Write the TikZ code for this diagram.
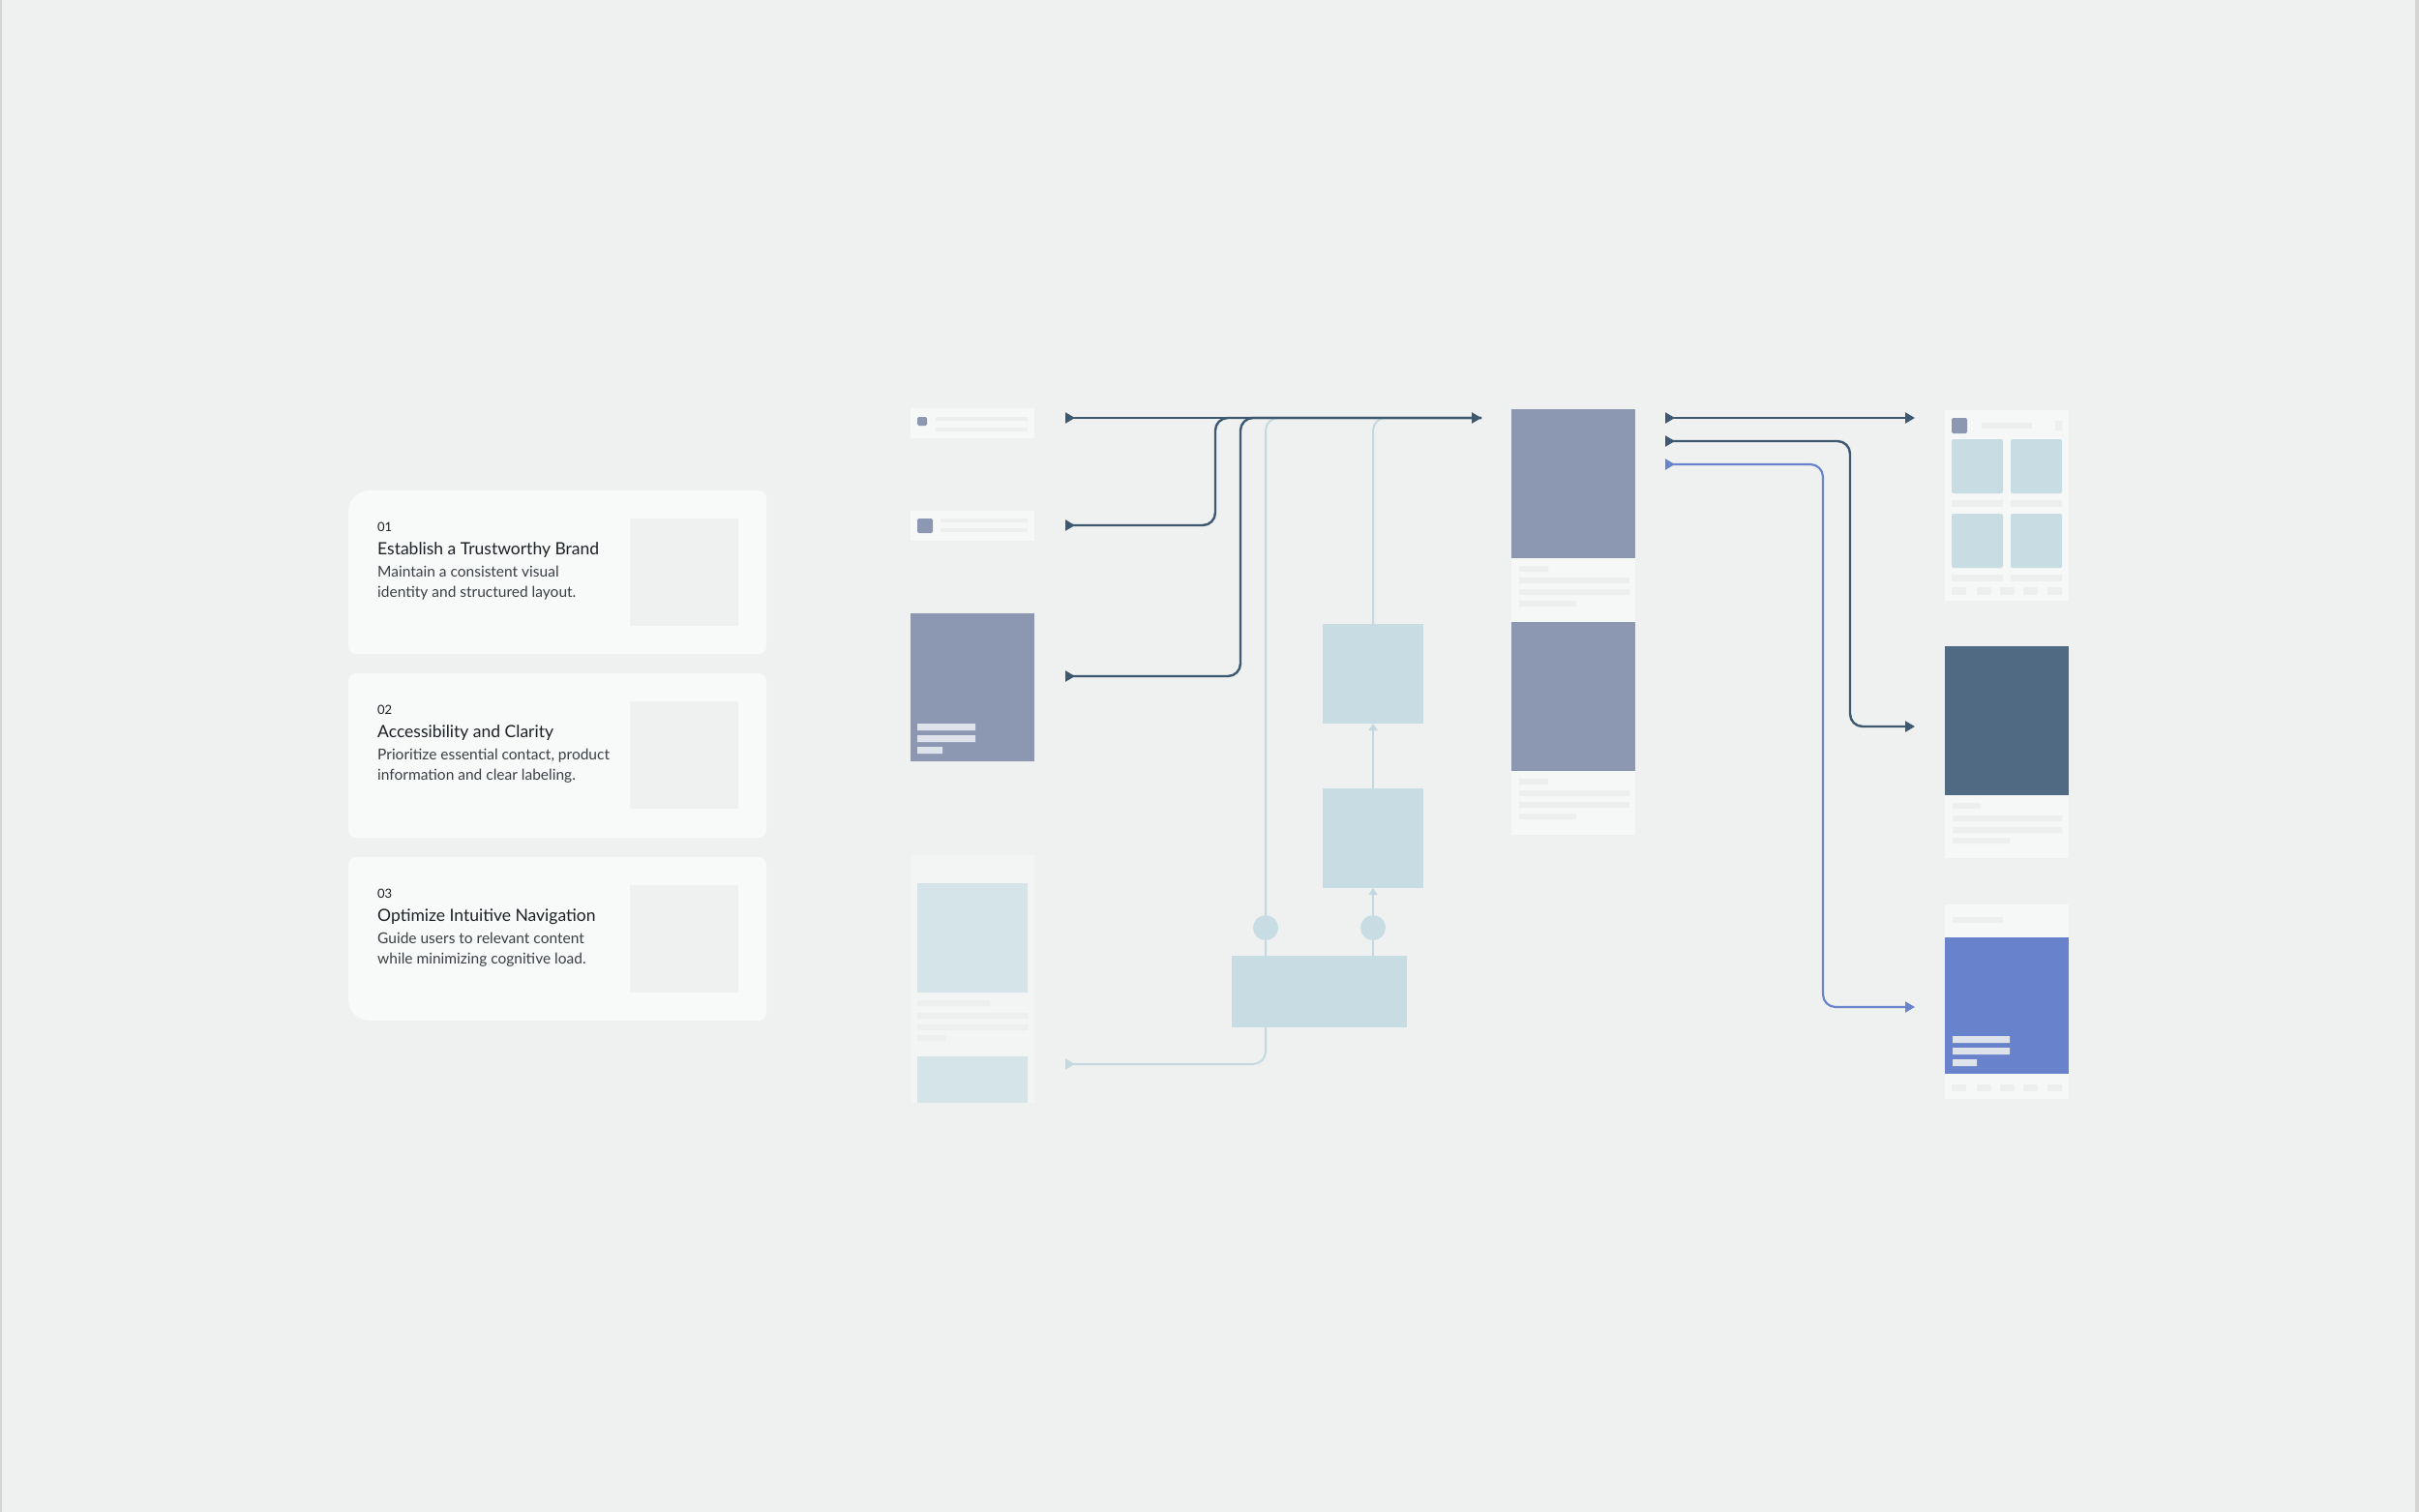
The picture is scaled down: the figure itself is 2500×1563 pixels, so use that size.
\documentclass[tikz,border=0pt]{standalone}
\usepackage{fontspec}
\setmainfont{Lato}
\usetikzlibrary{arrows.meta}
\definecolor{pgBack}{HTML}{EFF1F0}
\definecolor{pgEdge}{HTML}{D5D6D3}
\definecolor{pgCard}{HTML}{F8F9F9}
\definecolor{pgHole}{HTML}{EFF1F0}
\definecolor{pgSheet}{HTML}{F6F7F7}
\definecolor{pgFrost}{HTML}{F3F5F5}
\definecolor{pgSkel}{HTML}{EDEFEF}
\definecolor{pgSlate}{HTML}{3E5870}
\definecolor{pgMist}{HTML}{C8DDE3}
\definecolor{pgMistLine}{HTML}{C4D9DF}
\definecolor{pgPale}{HTML}{D4E4E9}
\definecolor{pgLilac}{HTML}{8C97B2}
\definecolor{pgBar}{HTML}{DDE2EB}
\definecolor{pgNavy}{HTML}{506A83}
\definecolor{pgBlue}{HTML}{6882CB}
\definecolor{pgBlueLine}{HTML}{6A84CC}
\definecolor{pgInk}{HTML}{1D2125}
\definecolor{pgText}{HTML}{3A3F44}

\begin{document}
\begin{tikzpicture}[x=1pt,y=-1pt,
    sheet/.style={fill=pgSheet,inner sep=0pt,outer sep=0pt,anchor=north west},
    mist/.style={fill=pgMist,inner sep=0pt,outer sep=0pt,anchor=north west},
    dot/.style={circle,fill=pgMist,inner sep=0pt,minimum size=26pt},
    num/.style={anchor=base west,inner sep=0pt,text=pgInk,font=\fontsize{13}{13}\selectfont},
    ttl/.style={anchor=base west,inner sep=0pt,text=pgInk,font=\fontsize{17.5}{18}\selectfont},
    txt/.style={anchor=base west,inner sep=0pt,text=pgText,font=\fontsize{15.5}{16}\selectfont},
    darkflow/.style={line width=2.4pt,pgSlate,rounded corners=13pt},
    lightflow/.style={line width=2pt,pgMistLine,rounded corners=13pt},
    blueflow/.style={line width=2.2pt,pgBlueLine,rounded corners=13pt},
    flowstart/.style={{Triangle[reversed,length=10pt,width=11pt]}-},
    flowboth/.style={{Triangle[reversed,length=10pt,width=11pt]}-{Triangle[length=10pt,width=11pt]}},
    tipup/.style={-{Triangle[length=7pt,width=9pt]}}]
  \useasboundingbox (0,0) rectangle (2500,1563);
  \fill[pgBack] (0,0) rectangle (2500,1563);
  \fill[pgEdge] (0,0) rectangle (2,1563);
  \fill[pgEdge] (2496,0) rectangle (2500,1563);

  % goal cards
  \fill[pgCard] (360,529) arc[start angle=180,end angle=270,radius=22] -- (784,507)
    arc[start angle=270,end angle=360,radius=8] -- (792,668)
    arc[start angle=0,end angle=90,radius=8] -- (368,676)
    arc[start angle=90,end angle=180,radius=8] -- cycle;
  \fill[pgCard,rounded corners=8pt] (360,696) rectangle (792,866);
  \fill[pgCard] (360,894) arc[start angle=180,end angle=270,radius=8] -- (784,886)
    arc[start angle=270,end angle=360,radius=8] -- (792,1047)
    arc[start angle=0,end angle=90,radius=8] -- (382,1055)
    arc[start angle=90,end angle=180,radius=22] -- cycle;
  \foreach \n/\y/\title/\la/\lb in {
      01/507/{Establish a Trustworthy Brand}/{Maintain a consistent visual}/{identity and structured layout.},
      02/696/{Accessibility and Clarity}/{Prioritize essential contact, product}/{information and clear labeling.},
      03/886/{Optimize Intuitive Navigation}/{Guide users to relevant content}/{while minimizing cognitive load.}}{
    \fill[pgHole] (651,\y+29) rectangle (763,\y+140);
    \node[num] (num\n) at (390,\y+42) {\n};
    \node[ttl] (ttl\n) at (390,\y+66) {\title};
    \node[txt] (txa\n) at (390,\y+89) {\la};
    \node[txt] (txb\n) at (390,\y+110) {\lb};
  }

  % entry screens
  \node[sheet,minimum width=128pt,minimum height=31pt] (navA) at (941,422) {};
  \fill[pgLilac,rounded corners=1.5pt] (948,431) rectangle (958,440);
  \fill[pgSkel] (967,431) rectangle (1062,435) (967,442) rectangle (1062,446);
  \node[sheet,minimum width=128pt,minimum height=31pt] (navB) at (941,528) {};
  \fill[pgLilac,rounded corners=2pt] (948,536) rectangle (964,551);
  \fill[pgSkel] (972,536) rectangle (1062,540) (972,546) rectangle (1062,550);
  \node[sheet,fill=pgLilac,minimum width=128pt,minimum height=153pt] (heroA) at (941,634) {};
  \fill[pgBar] (948,748) rectangle (1008,755) (948,760) rectangle (1008,767) (948,772) rectangle (974,779);
  \node[sheet,fill=pgFrost,minimum width=128pt,minimum height=256pt] (feed) at (941,884) {};
  \fill[pgPale] (948,913) rectangle (1062,1026) (948,1092) rectangle (1062,1140);
  \fill[pgSkel] (948,1034) rectangle (1023,1040) (948,1047) rectangle (1062,1053)
    (948,1059) rectangle (1062,1065) (948,1070) rectangle (977,1076);

  % home page
  \node[sheet,minimum width=128pt,minimum height=440pt] (home) at (1562,423) {};
  \foreach \t in {0,220}{
    \fill[pgLilac] (1562,423+\t) rectangle (1690,577+\t);
    \fill[pgSkel] (1570,585+\t) rectangle (1600,591+\t) (1570,597+\t) rectangle (1684,603+\t)
      (1570,609+\t) rectangle (1684,615+\t) (1570,621+\t) rectangle (1629,627+\t);
  }

  % target screens
  \node[sheet,minimum width=128pt,minimum height=197pt] (grid) at (2010,424) {};
  \fill[pgLilac,rounded corners=2pt] (2017,432) rectangle (2033,448);
  \fill[pgSkel] (2048,437) rectangle (2100,443) (2124,435) rectangle (2131,445);
  \foreach \x in {2017,2078}{
    \foreach \y in {454,531}{
      \fill[pgMist,rounded corners=2pt] (\x,\y) rectangle (\x+53,\y+56);
      \fill[pgSkel] (\x,\y+63) rectangle (\x+53,\y+70);
    }
  }
  \node[sheet,minimum width=128pt,minimum height=219pt] (hero) at (2010,668) {};
  \fill[pgNavy] (2010,668) rectangle (2138,822);
  \fill[pgSkel] (2018,830) rectangle (2047,836) (2018,843) rectangle (2131,849)
    (2018,855) rectangle (2131,861) (2018,866) rectangle (2077,872);
  \node[sheet,minimum width=128pt,minimum height=201pt] (promo) at (2010,935) {};
  \fill[pgSkel] (2018,948) rectangle (2070,954);
  \fill[pgBlue] (2010,969) rectangle (2138,1110);
  \fill[pgBar] (2018,1071) rectangle (2077,1078) (2018,1083) rectangle (2077,1090) (2018,1095) rectangle (2043,1102);
  \foreach \x in {2017,2043,2067,2091,2116}{
    \fill[pgSkel] (\x,607) rectangle (\x+15,615);
    \fill[pgSkel] (\x,1121) rectangle (\x+15,1128);
  }

  % connector ends
  \coordinate (aOut) at (1101,432);
  \coordinate (bOut) at (1101,543);
  \coordinate (cOut) at (1101,699);
  \coordinate (dOut) at (1101,1100);
  \coordinate (homeIn) at (1531,432);
  \coordinate (outA) at (1721,432);
  \coordinate (outB) at (1721,456);
  \coordinate (outC) at (1721,480);
  \coordinate (gridIn) at (1979,432);
  \coordinate (heroIn) at (1979,751);
  \coordinate (promoIn) at (1979,1041);

  % light branch
  \draw[lightflow,flowstart] (dOut) -| (1308,1062);
  \draw[lightflow] (1308,988) |- (homeIn);
  \draw[lightflow,tipup] (1419,988) -- (1419,918);
  \node[mist,minimum width=104pt,minimum height=103pt] (stepA) at (1367,645) {};
  \node[mist,minimum width=104pt,minimum height=103pt] (stepB) at (1367,815) {};
  \node[mist,minimum width=181pt,minimum height=74pt] (core) at (1273,988) {};
  \node[dot] (dotA) at (1308,959) {};
  \node[dot] (dotB) at (1419,959) {};
  \draw[lightflow,tipup] (stepB.north) -- (stepA.south);
  \draw[lightflow] (stepA.north) |- (homeIn);

  % dark branch
  \draw[darkflow,flowstart] (bOut) -- ++(155,0) |- (homeIn);
  \draw[darkflow,flowstart] (cOut) -- ++(181,0) |- (homeIn);
  \draw[darkflow,flowboth] (aOut) -- (homeIn);
  \draw[darkflow,flowboth] (outA) -- (gridIn);
  \draw[darkflow,flowboth] (outB) -- ++(191,0) |- (heroIn);
  \draw[blueflow,flowboth] (outC) -- ++(163,0) |- (promoIn);
\end{tikzpicture}
\end{document}
